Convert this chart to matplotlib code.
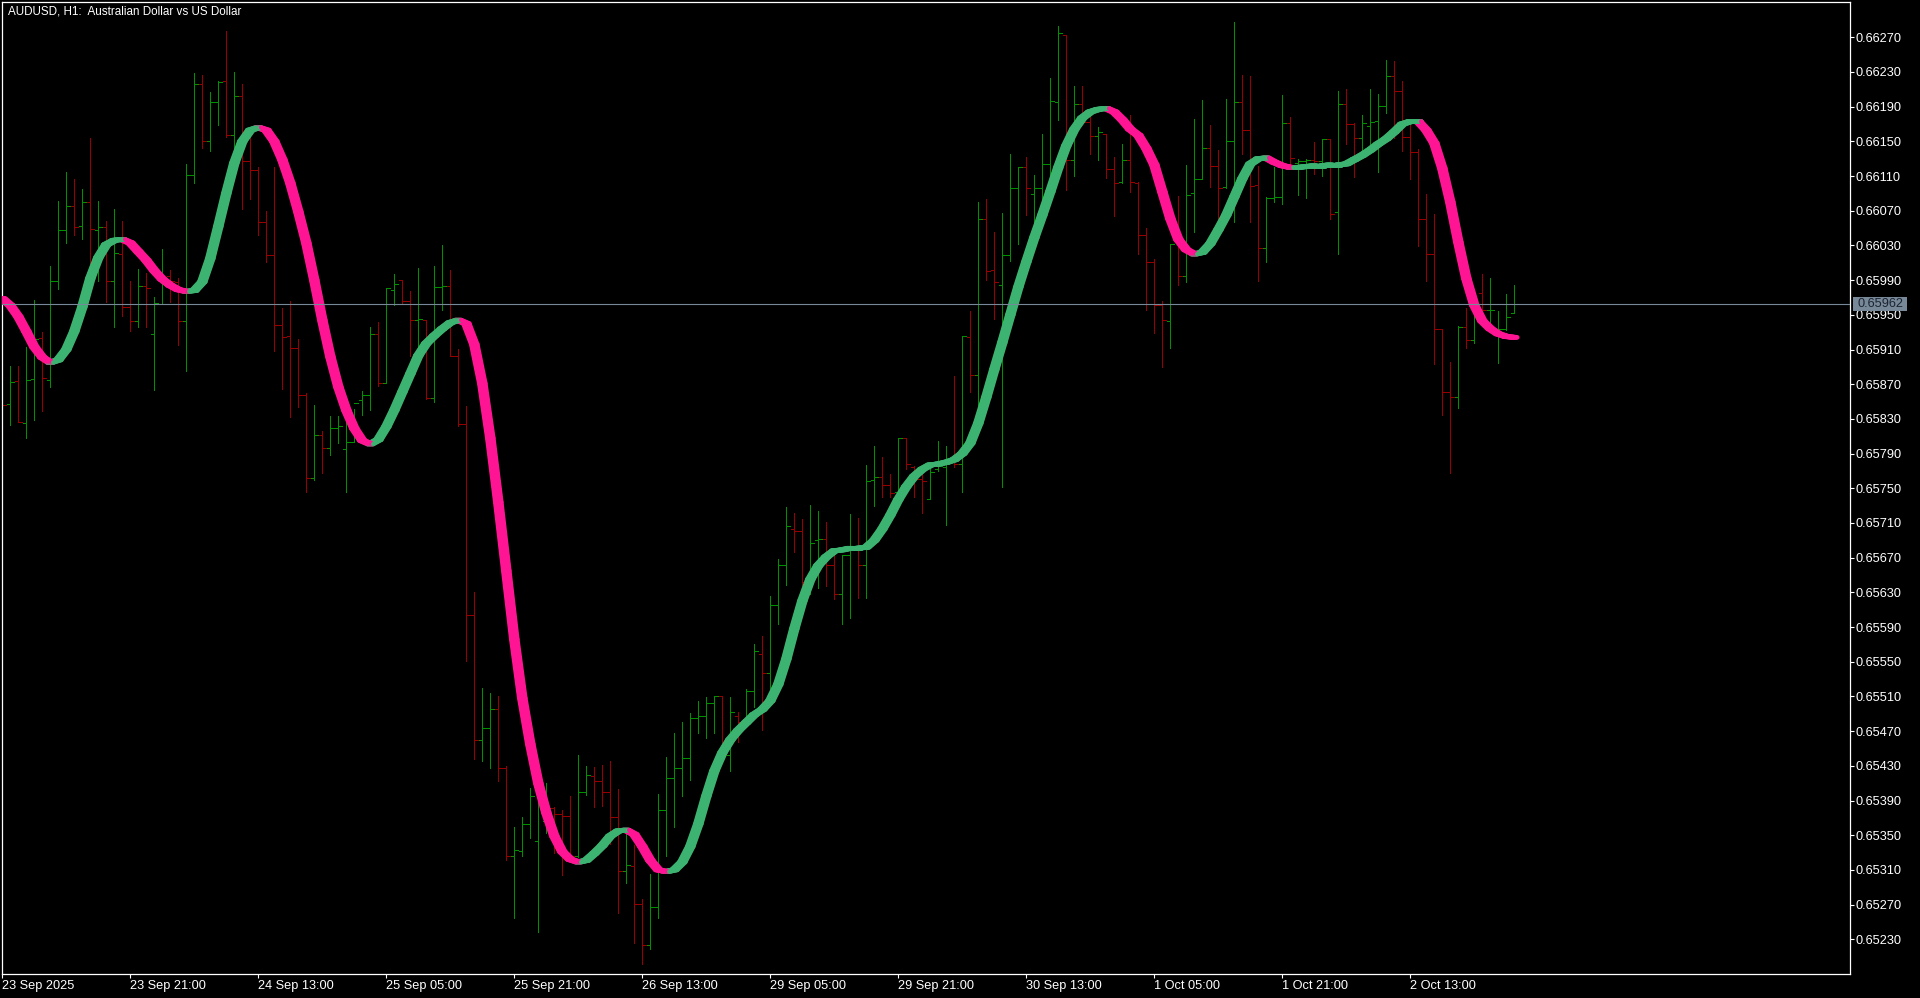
import numpy as np
import matplotlib
matplotlib.use("Agg")
import matplotlib.pyplot as plt
from matplotlib.collections import LineCollection
from matplotlib.patches import Rectangle
import matplotlib.transforms as mtransforms

# ---------------- data ----------------
title = "AUDUSD, H1:  Australian Dollar vs US Dollar"

opens = [
 0.65850,0.65847,0.65874,0.65825,0.65876,0.65923,0.65875,0.65989,0.66048,0.66075,
 0.66052,0.66080,0.66048,0.66051,0.65989,0.66020,0.65959,0.65943,0.65983,0.65928,
 0.65962,0.65995,0.65988,0.65943,0.66111,0.66216,0.66150,0.66195,0.66220,0.66157,
 0.66202,0.66127,0.66117,0.66057,0.66019,0.65938,0.65926,0.65912,0.65857,0.65762,
 0.65812,0.65797,0.65820,0.65795,0.65803,0.65852,0.65857,0.65928,0.65871,0.65979,
 0.65990,0.65966,0.65944,0.65944,0.65854,0.65982,0.65983,0.65903,0.65824,0.65604,
 0.65460,0.65474,0.65495,0.65428,0.65326,0.65332,0.65363,0.65343,0.65366,0.65381,
 0.65374,0.65372,0.65326,0.65400,0.65418,0.65413,0.65400,0.65371,0.65309,0.65314,
 0.65271,0.65223,0.65267,0.65379,0.65416,0.65428,0.65439,0.65485,0.65488,0.65502,
 0.65510,0.65442,0.65487,0.65484,0.65516,0.65559,0.65537,0.65615,0.65661,0.65703,
 0.65701,0.65642,0.65690,0.65692,0.65661,0.65628,0.65673,0.65681,0.65661,0.65759,
 0.65763,0.65754,0.65746,0.65808,0.65774,0.65761,0.65738,0.65772,0.65775,0.65781,
 0.65778,0.65925,0.65881,0.66060,0.66002,0.65984,0.66019,0.66096,0.66121,0.66089,
 0.66096,0.66124,0.66195,0.66273,0.66128,0.66193,0.66172,0.66156,0.66158,0.66118,
 0.66103,0.66129,0.66102,0.66042,0.66011,0.65961,0.65943,0.66036,0.65995,0.66090,
 0.66107,0.66142,0.66122,0.66097,0.66150,0.66195,0.66163,0.66100,0.66027,0.66085,
 0.66086,0.66171,0.66125,0.66127,0.66128,0.66127,0.66153,0.66068,0.66193,0.66170,
 0.66154,0.66168,0.66173,0.66191,0.66225,0.66208,0.66155,0.66138,0.66060,0.66020,
 0.65934,0.65861,0.65855,0.65936,0.65921,0.65975,0.65955,0.65929,0.65934,0.65952,
]
highs = [
 0.65870,0.65891,0.65891,0.65913,0.65967,0.65930,0.66006,0.66081,0.66115,0.66107,
 0.66095,0.66154,0.66081,0.66058,0.66072,0.66058,0.65989,0.66003,0.65998,0.65970,
 0.66026,0.66002,0.65993,0.66124,0.66229,0.66226,0.66207,0.66220,0.66277,0.66230,
 0.66216,0.66157,0.66120,0.66070,0.66121,0.65958,0.65966,0.65922,0.65860,0.65846,
 0.65816,0.65833,0.65833,0.65829,0.65842,0.65862,0.65936,0.65942,0.65981,0.65997,
 0.65990,0.65978,0.66004,0.65944,0.66006,0.66030,0.66002,0.65911,0.65845,0.65630,
 0.65520,0.65514,0.65510,0.65430,0.65359,0.65371,0.65404,0.65426,0.65410,0.65383,
 0.65379,0.65395,0.65442,0.65430,0.65429,0.65431,0.65436,0.65403,0.65358,0.65339,
 0.65277,0.65305,0.65398,0.65440,0.65468,0.65480,0.65491,0.65505,0.65509,0.65510,
 0.65510,0.65509,0.65492,0.65519,0.65571,0.65580,0.65626,0.65668,0.65729,0.65721,
 0.65715,0.65731,0.65724,0.65711,0.65677,0.65673,0.65720,0.65716,0.65777,0.65799,
 0.65786,0.65767,0.65808,0.65808,0.65776,0.65767,0.65779,0.65804,0.65799,0.65880,
 0.65926,0.65954,0.66080,0.66084,0.66045,0.66067,0.66135,0.66121,0.66132,0.66111,
 0.66159,0.66223,0.66283,0.66273,0.66214,0.66214,0.66187,0.66166,0.66158,0.66132,
 0.66147,0.66180,0.66103,0.66050,0.66014,0.65966,0.66032,0.66087,0.66123,0.66176,
 0.66198,0.66169,0.66140,0.66199,0.66288,0.66227,0.66225,0.66122,0.66086,0.66121,
 0.66203,0.66178,0.66130,0.66130,0.66149,0.66153,0.66153,0.66208,0.66210,0.66171,
 0.66180,0.66210,0.66205,0.66244,0.66243,0.66220,0.66176,0.66141,0.66089,0.66066,
 0.65934,0.65896,0.65937,0.65958,0.65980,0.65997,0.65993,0.65954,0.65974,0.65984,
]
lows = [
 0.65830,0.65823,0.65826,0.65808,0.65829,0.65839,0.65867,0.65980,0.66033,0.66042,
 0.66037,0.65983,0.65989,0.65965,0.65936,0.65949,0.65931,0.65936,0.65936,0.65863,
 0.65962,0.65965,0.65915,0.65885,0.66102,0.66142,0.66139,0.66169,0.66155,0.66142,
 0.66072,0.66084,0.66042,0.66011,0.65908,0.65864,0.65832,0.65844,0.65746,0.65760,
 0.65768,0.65788,0.65802,0.65746,0.65803,0.65835,0.65840,0.65868,0.65871,0.65961,
 0.65963,0.65902,0.65911,0.65853,0.65850,0.65956,0.65902,0.65822,0.65551,0.65438,
 0.65436,0.65428,0.65413,0.65322,0.65255,0.65326,0.65347,0.65238,0.65352,0.65329,
 0.65304,0.65323,0.65325,0.65396,0.65383,0.65384,0.65340,0.65260,0.65295,0.65226,
 0.65202,0.65219,0.65255,0.65326,0.65360,0.65395,0.65414,0.65468,0.65462,0.65468,
 0.65439,0.65424,0.65458,0.65481,0.65498,0.65471,0.65517,0.65593,0.65639,0.65676,
 0.65639,0.65628,0.65635,0.65637,0.65622,0.65593,0.65601,0.65624,0.65623,0.65730,
 0.65740,0.65740,0.65738,0.65772,0.65740,0.65721,0.65738,0.65770,0.65708,0.65775,
 0.65746,0.65861,0.65838,0.65990,0.65945,0.65752,0.66012,0.66032,0.66065,0.66041,
 0.66081,0.66078,0.66175,0.66094,0.66110,0.66171,0.66136,0.66129,0.66108,0.66064,
 0.66102,0.66092,0.66020,0.65955,0.65929,0.65890,0.65912,0.65984,0.65988,0.66045,
 0.66107,0.66097,0.66055,0.66096,0.66057,0.66135,0.66057,0.65989,0.66011,0.66080,
 0.66078,0.66124,0.66088,0.66085,0.66112,0.66110,0.66061,0.66020,0.66147,0.66109,
 0.66134,0.66138,0.66115,0.66183,0.66154,0.66139,0.66107,0.66029,0.65989,0.65893,
 0.65835,0.65768,0.65843,0.65912,0.65918,0.65954,0.65934,0.65894,0.65932,0.65952,
]
closes = [
 0.65846,0.65873,0.65826,0.65875,0.65922,0.65877,0.65989,0.66048,0.66075,0.66051,
 0.66080,0.66049,0.66051,0.65989,0.66021,0.65959,0.65943,0.65983,0.65981,0.65964,
 0.65991,0.65989,0.65943,0.66111,0.66216,0.66150,0.66195,0.66219,0.66157,0.66202,
 0.66127,0.66117,0.66057,0.66019,0.65938,0.65925,0.65912,0.65857,0.65762,0.65812,
 0.65797,0.65820,0.65822,0.65803,0.65848,0.65857,0.65928,0.65871,0.65981,0.65985,
 0.65966,0.65944,0.65945,0.65854,0.65982,0.65983,0.65903,0.65824,0.65604,0.65460,
 0.65474,0.65495,0.65428,0.65326,0.65333,0.65363,0.65395,0.65395,0.65381,0.65374,
 0.65372,0.65326,0.65400,0.65419,0.65413,0.65400,0.65371,0.65309,0.65316,0.65271,
 0.65223,0.65267,0.65379,0.65416,0.65428,0.65439,0.65485,0.65488,0.65502,0.65510,
 0.65442,0.65492,0.65481,0.65516,0.65562,0.65537,0.65615,0.65661,0.65706,0.65701,
 0.65642,0.65687,0.65692,0.65661,0.65628,0.65673,0.65681,0.65661,0.65758,0.65763,
 0.65754,0.65745,0.65808,0.65778,0.65761,0.65758,0.65769,0.65776,0.65781,0.65778,
 0.65926,0.65881,0.66061,0.66000,0.65988,0.66019,0.66096,0.66121,0.66096,0.66096,
 0.66124,0.66196,0.66275,0.66128,0.66193,0.66172,0.66156,0.66161,0.66118,0.66102,
 0.66129,0.66103,0.66042,0.66011,0.65961,0.65944,0.66032,0.65995,0.66088,0.66107,
 0.66142,0.66122,0.66096,0.66150,0.66195,0.66163,0.66099,0.66027,0.66085,0.66086,
 0.66171,0.66131,0.66127,0.66128,0.66127,0.66153,0.66066,0.66193,0.66170,0.66154,
 0.66171,0.66172,0.66191,0.66225,0.66208,0.66155,0.66138,0.66060,0.66020,0.65934,
 0.65861,0.65855,0.65936,0.65921,0.65958,0.65955,0.65956,0.65934,0.65948,0.65962,
]
smooth_line = [
 0.65969,0.65961,0.65948,0.65931,0.65913,0.65901,0.65895,0.65898,0.65910,0.65931,
 0.65959,0.65992,0.66016,0.66031,0.66036,0.66037,0.66033,0.66023,0.66013,0.66001,
 0.65991,0.65984,0.65979,0.65977,0.65978,0.65988,0.66015,0.66052,0.66090,0.66125,
 0.66150,0.66163,0.66166,0.66163,0.66150,0.66129,0.66102,0.66069,0.66033,0.65990,
 0.65944,0.65902,0.65867,0.65840,0.65819,0.65805,0.65801,0.65806,0.65821,0.65840,
 0.65861,0.65882,0.65903,0.65917,0.65926,0.65934,0.65941,0.65944,0.65940,0.65916,
 0.65871,0.65808,0.65734,0.65655,0.65576,0.65508,0.65455,0.65410,0.65376,0.65349,
 0.65331,0.65322,0.65319,0.65321,0.65329,0.65338,0.65349,0.65355,0.65356,0.65351,
 0.65337,0.65321,0.65310,0.65308,0.65310,0.65319,0.65337,0.65363,0.65395,0.65424,
 0.65445,0.65460,0.65471,0.65480,0.65489,0.65495,0.65505,0.65524,0.65553,0.65588,
 0.65620,0.65645,0.65661,0.65671,0.65678,0.65679,0.65681,0.65681,0.65682,0.65690,
 0.65703,0.65719,0.65737,0.65752,0.65764,0.65772,0.65777,0.65778,0.65780,0.65783,
 0.65790,0.65802,0.65825,0.65855,0.65887,0.65918,0.65950,0.65982,0.66011,0.66039,
 0.66065,0.66092,0.66120,0.66145,0.66164,0.66177,0.66184,0.66187,0.66188,0.66184,
 0.66175,0.66164,0.66157,0.66142,0.66123,0.66092,0.66061,0.66037,0.66025,0.66020,
 0.66022,0.66032,0.66048,0.66065,0.66086,0.66107,0.66124,0.66130,0.66131,0.66126,
 0.66122,0.66120,0.66120,0.66121,0.66122,0.66122,0.66123,0.66123,0.66124,0.66129,
 0.66134,0.66140,0.66147,0.66153,0.66161,0.66170,0.66173,0.66173,0.66163,0.66148,
 0.66119,0.66080,0.66034,0.65992,0.65961,0.65943,0.65934,0.65928,0.65925,0.65924,
]
current_price = 0.65962

price_ticks = [0.65230,0.65270,0.65310,0.65350,0.65390,0.65430,0.65470,0.65510,
               0.65550,0.65590,0.65630,0.65670,0.65710,0.65750,0.65790,0.65830,
               0.65870,0.65910,0.65950,0.65990,0.66030,0.66070,0.66110,0.66150,
               0.66190,0.66230,0.66270]
time_tick_bars = [0, 16, 32, 48, 64, 80, 96, 112, 128, 144, 160, 176]
time_tick_labels = ["23 Sep 2025", "23 Sep 21:00", "24 Sep 13:00", "25 Sep 05:00",
                    "25 Sep 21:00", "26 Sep 13:00", "29 Sep 05:00", "29 Sep 21:00",
                    "30 Sep 13:00", "1 Oct 05:00", "1 Oct 21:00", "2 Oct 13:00"]

# ---------------- styles ----------------
BULL = "#009000"
BEAR = "#960000"
UPC = "#3cb371"
DNC = "#ff1493"
PRICE_LINE = "#778899"
FONT = ["Liberation Sans", "DejaVu Sans"]
FS = 9.2

W, H = 1920, 998
fig = plt.figure(figsize=(W / 100, H / 100), dpi=100, facecolor="black")
ax_l, ax_r, ax_t, ax_b = 2, 1850, 2, 974
ax = fig.add_axes([ax_l / W, 1 - ax_b / H, (ax_r - ax_l) / W, (ax_b - ax_t) / H])
ax.set_facecolor("black")

px_per_bar = 8.0
x0_px = 2.3
ax.set_xlim((ax_l - x0_px) / px_per_bar, (ax_r - x0_px) / px_per_bar)
px_per_price = 86730.0
ref_price, ref_px = 0.66270, 37.3
ax.set_ylim(ref_price - (ax_b - ref_px) / px_per_price,
            ref_price + (ref_px - ax_t) / px_per_price)

n = len(closes)
x = np.arange(n)
o = np.array(opens); h = np.array(highs); l = np.array(lows); c = np.array(closes)
cols = [BULL if c[i] >= o[i] else BEAR for i in range(n)]
tick = 0.4
ax.vlines(x, l, h, colors=cols, linewidth=0.72, antialiased=False, zorder=2)
ax.hlines(o, x - tick, x, colors=cols, linewidth=0.72, antialiased=False, zorder=2)
ax.hlines(c, x, x + tick, colors=cols, linewidth=0.72, antialiased=False, zorder=2)

# smoothed line coloured by slope; drawn as a horizontally-wide pen like the terminal
v = np.array(smooth_line)
segs = [[(i - 1, v[i - 1]), (i, v[i])] for i in range(1, n)]
scol = [UPC if v[i] >= v[i - 1] else DNC for i in range(1, n)]
for dx in np.linspace(-3.0, 3.0, 9):
    tr = ax.transData + mtransforms.ScaledTranslation(dx / 100.0, 0, fig.dpi_scale_trans)
    lc = LineCollection(segs, colors=scol, linewidths=3.3, capstyle="round",
                        joinstyle="round", zorder=3, transform=tr)
    ax.add_collection(lc)

# current price line
ax.axhline(current_price, color=PRICE_LINE, linewidth=0.8, zorder=4)

# axes styling
for s in ax.spines.values():
    s.set_color("white")
    s.set_linewidth(0.9)

ax.yaxis.tick_right()
ax.set_yticks(price_ticks)
ax.set_yticklabels([f"{p:.5f}" for p in price_ticks])
ax.tick_params(axis="y", colors="white", direction="out", length=3, width=0.8,
               pad=1, labelsize=FS)
ax.set_xticks(time_tick_bars)
ax.set_xticklabels(time_tick_labels)
ax.tick_params(axis="x", colors="white", direction="out", length=3, width=0.8,
               pad=1.5, labelsize=FS)
for t in ax.get_xticklabels():
    t.set_horizontalalignment("left")
    t.set_fontfamily(FONT)
for t in ax.get_yticklabels():
    t.set_fontfamily(FONT)

# current price label box
bt = mtransforms.blended_transform_factory(fig.transFigure, ax.transData)
box_h = 14 / px_per_price
ax.add_patch(Rectangle((1853 / W, current_price - box_h / 2), 54 / W, box_h,
                       transform=bt, facecolor=PRICE_LINE, edgecolor="none",
                       clip_on=False, zorder=6))
ax.text(1880 / W, current_price, f"{current_price:.5f}", transform=bt,
        ha="center", va="center", color="#1c2430", fontsize=FS,
        family=FONT, zorder=7, clip_on=False)

fig.text(8 / W, 1 - 12 / H, title, color="white", fontsize=8.4,
         family=FONT, ha="left", va="center")

fig.savefig("out.png", dpi=100, facecolor="black")
